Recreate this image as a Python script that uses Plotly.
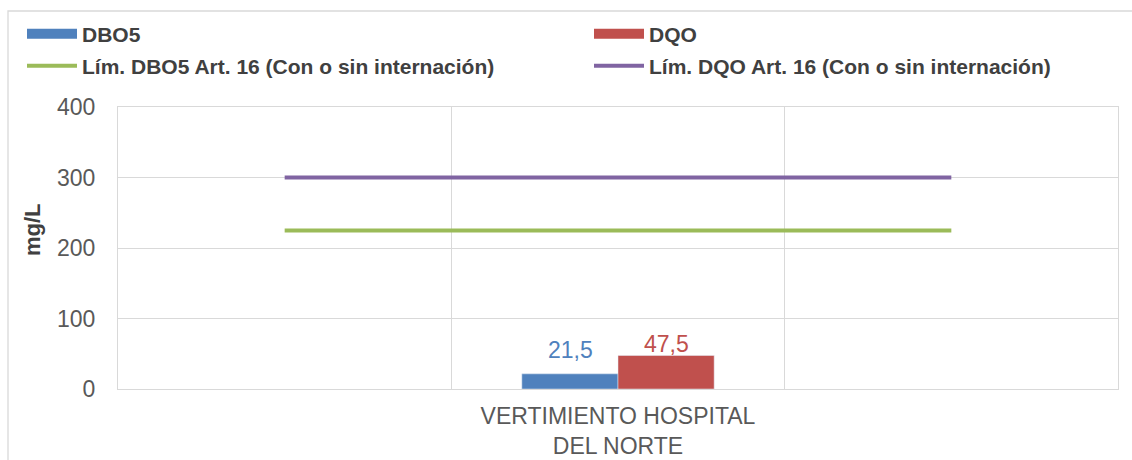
import plotly.graph_objects as go

categories = [" ", "VERTIMIENTO HOSPITAL<br>DEL NORTE", "  "]
dbo5 = [None, 21.5, None]
dqo = [None, 47.5, None]
lim_dbo5 = [225, 225, 225]
lim_dqo = [300, 300, 300]
yticks = [0, 100, 200, 300, 400]

BLUE = "#4F81BD"
RED = "#C0504D"
GREEN = "#9BBB59"
PURPLE = "#8064A2"
GRID = "#D9D9D9"
FONT = "Liberation Sans, Arial, sans-serif"

W, H = 1132, 460
ML, MR, MT, MB = 118, 14, 107, 71

fig = go.Figure()

fig.add_trace(go.Bar(x=categories, y=dbo5, marker_color=BLUE, showlegend=False))
fig.add_trace(go.Bar(x=categories, y=dqo, marker_color=RED, showlegend=False))
fig.add_trace(go.Scatter(x=categories, y=lim_dbo5, mode="lines",
                         line=dict(color=GREEN, width=4), showlegend=False))
fig.add_trace(go.Scatter(x=categories, y=lim_dqo, mode="lines",
                         line=dict(color=PURPLE, width=4), showlegend=False))

# legend entries
fig.add_trace(go.Scatter(x=[None], y=[None], mode="lines", name="DBO5",
                         line=dict(color=BLUE, width=12), legend="legend"))
fig.add_trace(go.Scatter(x=[None], y=[None], mode="lines", name="DQO",
                         line=dict(color=RED, width=12), legend="legend2"))
fig.add_trace(go.Scatter(x=[None], y=[None], mode="lines",
                         name="Lím. DBO5 Art. 16 (Con o sin internación)",
                         line=dict(color=GREEN, width=4), legend="legend3"))
fig.add_trace(go.Scatter(x=[None], y=[None], mode="lines",
                         name="Lím. DQO Art. 16 (Con o sin internación)",
                         line=dict(color=PURPLE, width=4), legend="legend4"))

# data labels
annotations = []
for cat, v in zip(categories, dbo5):
    if v is not None:
        annotations.append(dict(x=cat, y=v, xref="x", yref="y", showarrow=False,
                                text=f"{v:.1f}".replace(".", ","), xshift=-48, yshift=24,
                                yanchor="middle",
                                font=dict(size=23, color=BLUE, family=FONT)))
for cat, v in zip(categories, dqo):
    if v is not None:
        annotations.append(dict(x=cat, y=v, xref="x", yref="y", showarrow=False,
                                text=f"{v:.1f}".replace(".", ","), xshift=48, yshift=12,
                                yanchor="middle",
                                font=dict(size=23, color=RED, family=FONT)))
annotations.append(dict(x=(32 - ML) / 1000, y=(389 - 230) / 282, xref="paper", yref="paper",
                        text="<b>mg/L</b>", textangle=-90, showarrow=False,
                        xanchor="center", yanchor="middle",
                        font=dict(size=22, color="#404040", family=FONT)))

legfont = dict(family=FONT, size=21, color="#404040", weight="bold")

def leg(px, py):
    return dict(x=px / W, y=1 - py / H, xref="container", yref="container",
                xanchor="left", yanchor="middle", font=legfont, itemwidth=50,
                bgcolor="rgba(0,0,0,0)", borderwidth=0)

fig.update_layout(
    width=W, height=H,
    margin=dict(l=ML, r=MR, t=MT, b=MB, autoexpand=False),
    paper_bgcolor="white", plot_bgcolor="white",
    barmode="group", bargap=0.423, bargroupgap=0,
    font=dict(family=FONT, color="#595959"),
    legend=leg(22, 34),
    legend2=leg(589, 34),
    legend3=leg(22, 66),
    legend4=leg(589, 66),
    xaxis=dict(type="category", tickson="boundaries", showgrid=True, gridcolor=GRID,
               gridwidth=1.3, ticks="", showline=True, linecolor=GRID, linewidth=1.3,
               mirror=True, tickfont=dict(size=23, color="#595959"),
               ticklabelstandoff=6, zeroline=False, fixedrange=True),
    yaxis=dict(range=[0, 400], tickvals=yticks, showgrid=True, gridcolor=GRID,
               gridwidth=1.3, ticks="", showline=True, linecolor=GRID, linewidth=1.3,
               mirror=True, tickfont=dict(size=23, color="#595959"),
               ticklabelstandoff=17, zeroline=False),
    annotations=annotations,
    shapes=[dict(type="rect", xref="paper", yref="paper",
                 x0=(8 - ML) / 1000, x1=1.3, y0=-0.6, y1=(389 - 11) / 282,
                 line=dict(color=GRID, width=1.3), fillcolor="rgba(0,0,0,0)",
                 layer="below")],
)

fig.write_html("out.html", config={"displayModeBar": False},
               post_script="document.body.style.margin='0';")
